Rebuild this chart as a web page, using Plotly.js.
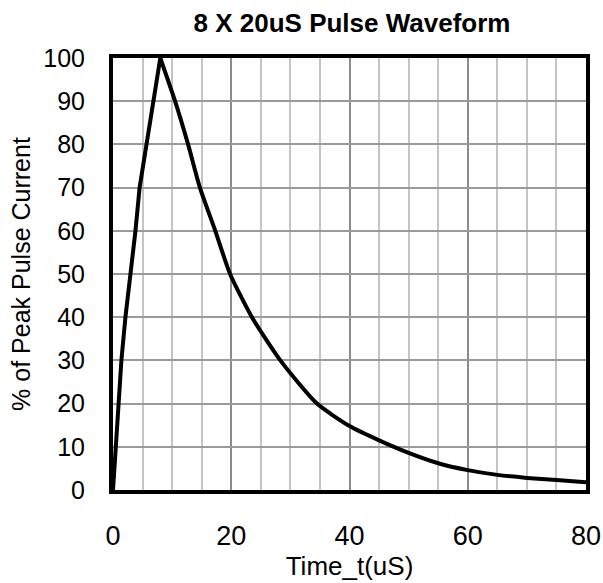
<!DOCTYPE html>
<html>
<head>
<meta charset="utf-8">
<script src="https://cdn.plot.ly/plotly-3.0.1.min.js"></script>
<style>html,body{margin:0;padding:0;background:#fff;}#chart{width:603px;height:583px;}</style>
</head>
<body>
<div id="chart"></div>
<script>
// Time in microseconds
var timeUs = [0, 0.46, 0.85, 1.42, 2.1, 3.0, 3.8, 4.5, 5.7, 6.8, 8,
              10.5, 12.7, 14.7, 17.3, 19.8, 23.5, 28.3, 34.5,
              40, 45, 50, 55, 60, 65, 70, 75, 80];
// Percent of peak pulse current
var pctCurrent = [0, 10, 20, 30, 40, 50, 60, 70, 80, 90, 100,
                  90, 80, 70, 60, 50, 40, 30, 20,
                  14.8, 11.5, 8.6, 6.2, 4.6, 3.5, 2.8, 2.3, 1.8];
var xTickVals = [0, 20, 40, 60, 80];
var yTickVals = [0, 10, 20, 30, 40, 50, 60, 70, 80, 90, 100];

var FONT = 'Liberation Sans, Arial, Helvetica, sans-serif';

// split at the peak: straight rise, smooth decay
var peakIdx = pctCurrent.indexOf(Math.max.apply(null, pctCurrent));
var rise = {
  x: timeUs.slice(0, peakIdx + 1),
  y: pctCurrent.slice(0, peakIdx + 1),
  type: 'scatter', mode: 'lines',
  line: {color: '#000000', width: 4},
  hoverinfo: 'skip'
};
var decay = {
  x: timeUs.slice(peakIdx),
  y: pctCurrent.slice(peakIdx),
  type: 'scatter', mode: 'lines',
  line: {color: '#000000', width: 4, shape: 'spline', smoothing: 0.6},
  hoverinfo: 'skip'
};

var layout = {
  width: 603,
  height: 583,
  paper_bgcolor: '#ffffff',
  plot_bgcolor: '#ffffff',
  showlegend: false,
  margin: {l: 113, r: 17, t: 58, b: 93, pad: 0},
  title: {
    text: '<b>8 X 20uS Pulse Waveform</b>',
    font: {family: FONT, size: 26, color: '#000'},
    x: 352 / 603, xanchor: 'center', xref: 'container',
    y: 1 - 23 / 583, yanchor: 'middle', yref: 'container'
  },
  xaxis: {
    range: [0, 80],
    tickmode: 'array',
    tickvals: xTickVals,
    ticks: '',
    ticklabelstandoff: 19,
    tickfont: {family: FONT, size: 27, color: '#000'},
    showgrid: true,
    gridcolor: '#8c8c8c',
    gridwidth: 2,
    minor: {dtick: 5, tick0: 0, showgrid: true, gridcolor: '#c4c4c4', gridwidth: 2, ticks: ''},
    showline: true,
    mirror: true,
    linecolor: '#000',
    linewidth: 4,
    zeroline: false,
    title: {text: 'Time_t(uS)', font: {family: FONT, size: 26, color: '#000'}, standoff: 7}
  },
  yaxis: {
    range: [0, 100],
    tickmode: 'array',
    tickvals: yTickVals,
    ticks: '',
    ticklabelstandoff: 19,
    tickfont: {family: FONT, size: 25, color: '#000'},
    showgrid: true,
    gridcolor: '#9a9a9a',
    gridwidth: 2,
    showline: true,
    mirror: true,
    linecolor: '#000',
    linewidth: 4,
    zeroline: false,
    title: {text: '% of Peak Pulse Current', font: {family: FONT, size: 25, color: '#000'}, standoff: 7}
  }
};

Plotly.newPlot('chart', [rise, decay], layout, {staticPlot: true, displayModeBar: false});
</script>
</body>
</html>
